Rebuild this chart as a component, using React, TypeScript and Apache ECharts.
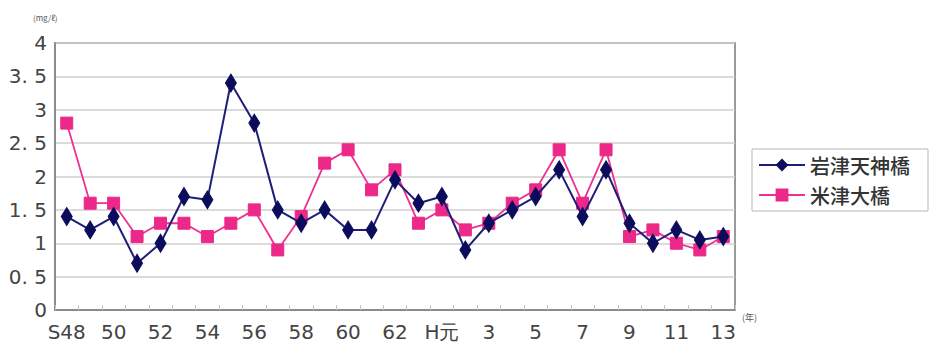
import React, { useEffect, useRef } from "react";
import * as echarts from "echarts";

// Fiscal years S48 (1973) through H13 (2001)
const years: string[] = [
  "S48", "49", "50", "51", "52", "53", "54", "55", "56", "57", "58", "59", "60", "61", "62", "63",
  "H元", "2", "3", "4", "5", "6", "7", "8", "9", "10", "11", "12", "13",
];

// Annual mean concentration (mg/ℓ)
const iwazuTenjinbashi: number[] = [
  1.4, 1.2, 1.4, 0.7, 1.0, 1.7, 1.65, 3.4, 2.8, 1.5, 1.3, 1.5, 1.2, 1.2, 1.95, 1.6,
  1.7, 0.9, 1.3, 1.5, 1.7, 2.1, 1.4, 2.1, 1.3, 1.0, 1.2, 1.05, 1.1,
];
const yonezuOhashi: number[] = [
  2.8, 1.6, 1.6, 1.1, 1.3, 1.3, 1.1, 1.3, 1.5, 0.9, 1.4, 2.2, 2.4, 1.8, 2.1, 1.3,
  1.5, 1.2, 1.3, 1.6, 1.8, 2.4, 1.6, 2.4, 1.1, 1.2, 1.0, 0.9, 1.1,
];

const seriesNames: string[] = ["岩津天神橋", "米津大橋"];

const labelFont = '"DejaVu Sans", sans-serif';
const cjkFont = '"Noto Sans CJK JP", sans-serif';

export default function App() {
  const ref = useRef<HTMLDivElement>(null);

  useEffect(() => {
    document.body.style.margin = "0";
    if (!ref.current) return;
    const chart = echarts.init(ref.current, null, { renderer: "svg" });
    chart.setOption({
      animation: false,
      backgroundColor: "#ffffff",
      grid: {
        left: 55,
        right: 195,
        top: 43,
        bottom: 36,
        show: true,
        borderColor: "#9a9a9a",
        borderWidth: 2,
        backgroundColor: "#ffffff",
      },
      legend: {
        orient: "vertical",
        left: 752,
        top: 149,
        itemWidth: 46,
        itemHeight: 16,
        itemGap: 10,
        padding: [6, 18, 6, 6],
        borderColor: "#b8b8b8",
        borderWidth: 1,
        textStyle: {
          fontSize: 20,
          color: "#333333",
          fontFamily: cjkFont,
          fontWeight: 500,
        },
        data: seriesNames,
      },
      xAxis: {
        type: "category",
        data: years,
        boundaryGap: true,
        axisLine: { show: true, lineStyle: { color: "#8c8c8c", width: 2 } },
        axisTick: {
          show: true,
          inside: true,
          length: 5,
          interval: 0,
          lineStyle: { color: "#c4c4c4", width: 1 },
        },
        axisLabel: {
          interval: 1,
          fontSize: 20,
          color: "#444444",
          fontFamily: labelFont,
          margin: 12,
        },
        splitLine: { show: false },
      },
      yAxis: {
        type: "value",
        min: 0,
        max: 4,
        interval: 0.5,
        axisLine: { show: true, lineStyle: { color: "#8c8c8c", width: 2 } },
        axisTick: { show: false },
        axisLabel: {
          fontSize: 20,
          color: "#444444",
          fontFamily: labelFont,
          margin: 8,
          formatter: (v: number) => (Number.isInteger(v) ? String(v) : v.toFixed(1).replace(".", ". ")),
        },
        splitLine: { show: true, lineStyle: { color: "#cfcfcf", width: 1.5 } },
      },
      graphic: [
        {
          type: "text",
          left: 33,
          top: 13,
          style: { text: "(mg/ℓ)", fontSize: 8, fill: "#555555", fontFamily: cjkFont },
        },
        {
          type: "text",
          left: 742,
          top: 313,
          style: { text: "(年)", fontSize: 9, fill: "#555555", fontFamily: cjkFont },
        },
      ],
      series: [
        {
          name: seriesNames[0],
          type: "line",
          data: iwazuTenjinbashi,
          symbol: "diamond",
          symbolSize: [11, 18],
          showAllSymbol: true,
          z: 3,
          lineStyle: { color: "#1e1e78", width: 2 },
          itemStyle: { color: "#0c0c5c", borderColor: "#0c0c5c" },
        },
        {
          name: seriesNames[1],
          type: "line",
          data: yonezuOhashi,
          symbol: "rect",
          symbolSize: 12,
          showAllSymbol: true,
          z: 2,
          lineStyle: { color: "#ee3090", width: 1.8 },
          itemStyle: { color: "#ec2888", borderColor: "#ec2888" },
        },
      ],
    });
    return () => chart.dispose();
  }, []);

  return <div ref={ref} style={{ width: 930, height: 346 }} />;
}
